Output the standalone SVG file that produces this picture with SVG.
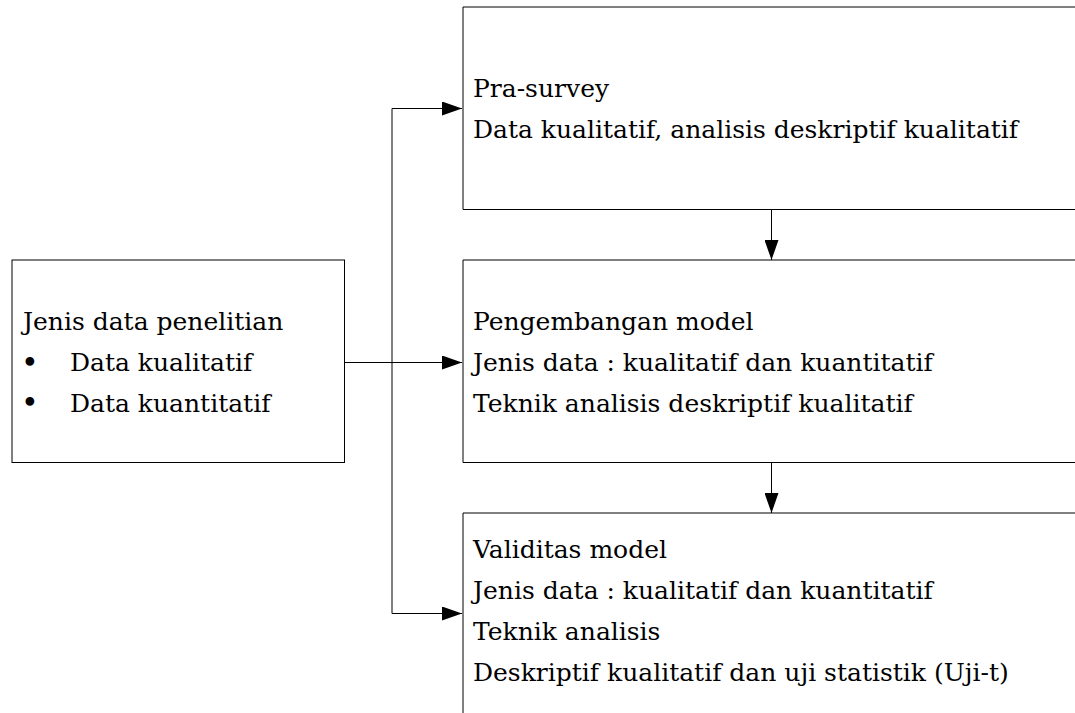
<svg xmlns="http://www.w3.org/2000/svg" width="1075" height="713" viewBox="0 0 1075 713">
  <style>
    .box { fill: #ffffff; stroke: #000000; stroke-width: 1; }
    .edge { fill: none; stroke: #000000; stroke-width: 1; }
    .link { fill: none; stroke: #000000; stroke-width: 1; }
    .lbl { font-family: 'DejaVu Serif', 'Liberation Serif', serif; font-size: 25px; fill: #000000; }
    .dot { font-size: 30px; }
  </style>
  <defs>
    <marker id="arrow" viewBox="0 0 20 14" refX="20" refY="7" markerWidth="20" markerHeight="14" markerUnits="userSpaceOnUse" orient="auto">
      <path d="M0,0 L20,7 L0,14 Z" fill="#000000"/>
    </marker>
  </defs>

  <rect width="1075" height="713" fill="#ffffff"/>

  <!-- connectors -->
  <g id="connectors">
    <line class="link" x1="344.5" y1="362.5" x2="462" y2="362.5" marker-end="url(#arrow)"/>
    <line class="link" x1="392" y1="108.5" x2="392" y2="613.5"/>
    <line class="link" x1="392" y1="108.5" x2="462" y2="108.5" marker-end="url(#arrow)"/>
    <line class="link" x1="392" y1="613.5" x2="462" y2="613.5" marker-end="url(#arrow)"/>
    <line class="link" x1="771.5" y1="209.5" x2="771.5" y2="260" marker-end="url(#arrow)"/>
    <line class="link" x1="771.5" y1="462.5" x2="771.5" y2="513" marker-end="url(#arrow)"/>
  </g>

  <!-- research data types -->
  <g id="node-jenis-data" class="lbl">
    <rect class="box" x="12" y="260" width="332.5" height="202.5"/>
    <text x="23" y="330">Jenis data penelitian</text>
    <text class="dot" x="21" y="373">•</text>
    <text x="70" y="371">Data kualitatif</text>
    <text class="dot" x="21" y="413">•</text>
    <text x="70" y="412">Data kuantitatif</text>
  </g>

  <!-- pre-survey -->
  <g id="node-pra-survey" class="lbl">
    <path class="edge" d="M1075,7 H463 V209.5 H1075"/>
    <text x="473" y="97">Pra-survey</text>
    <text x="473" y="138">Data kualitatif, analisis deskriptif kualitatif</text>
  </g>

  <!-- model development -->
  <g id="node-pengembangan" class="lbl">
    <path class="edge" d="M1075,260 H463 V462.5 H1075"/>
    <text x="473" y="330">Pengembangan model</text>
    <text x="473" y="371">Jenis data : kualitatif dan kuantitatif</text>
    <text x="473" y="412">Teknik analisis deskriptif kualitatif</text>
  </g>

  <!-- model validity -->
  <g id="node-validitas" class="lbl">
    <path class="edge" d="M1075,513 H463 V713"/>
    <text x="473" y="558">Validitas model</text>
    <text x="473" y="599">Jenis data : kualitatif dan kuantitatif</text>
    <text x="473" y="640">Teknik analisis</text>
    <text x="473" y="681">Deskriptif kualitatif dan uji statistik (Uji-t)</text>
  </g>
</svg>
